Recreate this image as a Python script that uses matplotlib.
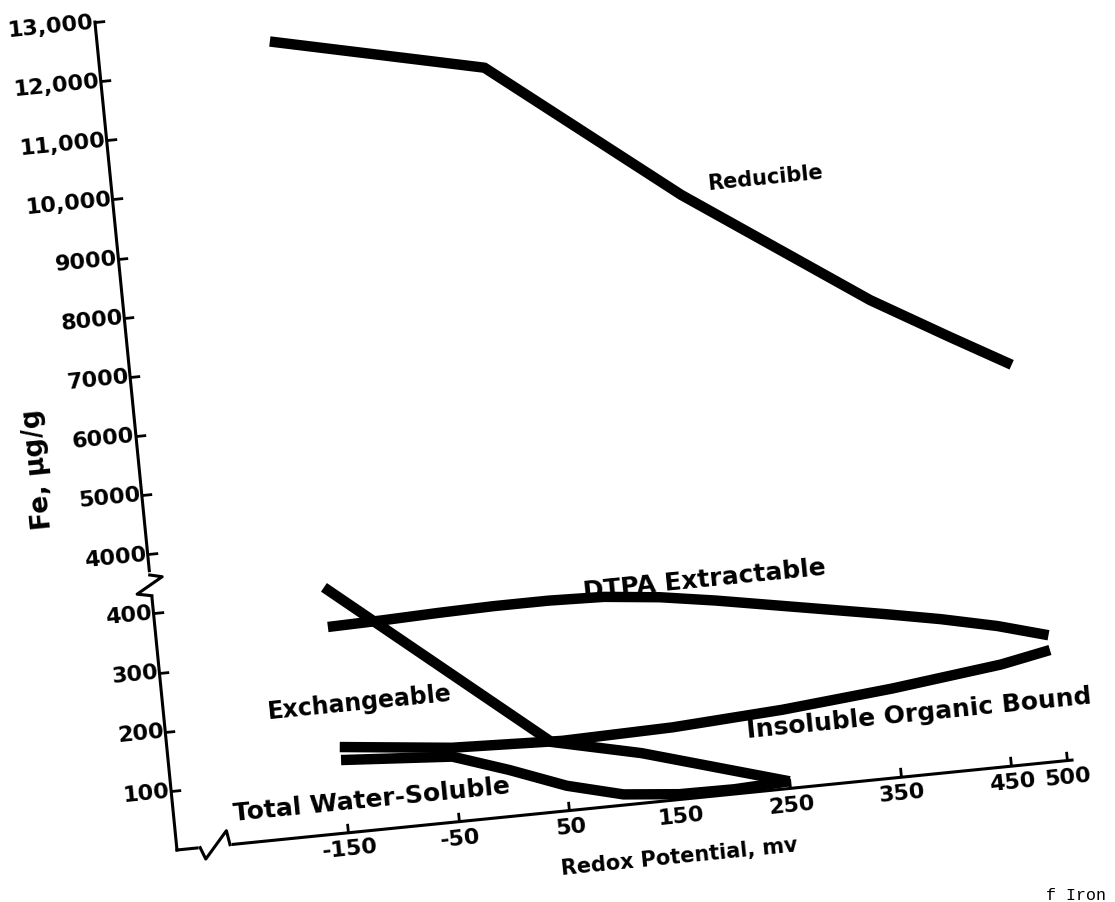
import numpy as np
import matplotlib
matplotlib.use("Agg")
import matplotlib.pyplot as plt
from matplotlib.transforms import Affine2D, IdentityTransform, blended_transform_factory
from matplotlib.scale import FuncTransform
import mpl_toolkits.axisartist.floating_axes as floating_axes
from mpl_toolkits.axisartist.grid_finder import FixedLocator, DictFormatter

# redox potential (mv) and Fe (ug/g)
reducible_mv = [-150, 40, 205, 365, 433, 486]
reducible = [12380, 11580, 9120, 7040, 6290, 5720]

dtpa_mv = [-150, -100, -50, 0, 50, 100, 150, 200, 250, 300, 350, 400, 450, 495]
dtpa = [348, 350, 353, 355, 355, 352, 342, 327, 310, 293, 276, 258, 237, 213]

insoluble_mv = [-150, -50, 50, 150, 250, 350, 450, 495]
insoluble = [145, 125, 118, 122, 133, 150, 172, 188]

exchange_mv = [-150, 40, 120, 250]
exchange = [415, 118, 84, 12]

water_mv = [-150, -50, 0, 50, 100, 150, 200, 250]
water = [123, 110, 78, 42, 18, 9, 8, 12]

x_ticks = [-150, -50, 50, 150, 250, 350, 450, 500]
x_labels = ["-150", "-50", "50", "150", "250", "350", "450", "500"]
y_ticks = [100, 200, 300, 400, 4000, 5000, 6000, 7000, 8000, 9000,
           10000, 11000, 12000, 13000]
y_labels = ["100", "200", "300", "400", "4000", "5000", "6000", "7000",
            "8000", "9000", "10,000", "11,000", "12,000", "13,000"]


# broken y scale: 0-450 linear, squeezed gap, then 4000-13000
def fwd(v):
    v = np.asarray(v, dtype=float)
    return np.where(v <= 450, v / 100,
                    np.where(v < 4000, 4.5 + (v - 450) / 7100, v / 1000 + 1))


def inv(p):
    p = np.asarray(p, dtype=float)
    return np.where(p <= 4.5, p * 100,
                    np.where(p < 5, 450 + (p - 4.5) * 7100, (p - 1) * 1000))


W, H = 1115, 902
TILT = 5.74  # the scanned page is turned a little

# data -> pixel frame (x right, y up), slightly rotated like the scan
skew = Affine2D(np.array([[1.105, -5.86, 514.0],
                          [0.111, 59.14, 85.86],
                          [0.0, 0.0, 1.0]]))
tr = blended_transform_factory(IdentityTransform(), FuncTransform(fwd, inv)) + skew

grid_helper = floating_axes.GridHelperCurveLinear(
    tr, extremes=(-305, 505, 0, 13000),
    grid_locator1=FixedLocator(x_ticks),
    tick_formatter1=DictFormatter(dict(zip(x_ticks, x_labels))),
    grid_locator2=FixedLocator(y_ticks),
    tick_formatter2=DictFormatter(dict(zip(y_ticks, y_labels))))

fig = plt.figure(figsize=(W / 100, H / 100), dpi=100)
ax = fig.add_subplot(axes_class=floating_axes.FloatingAxes, grid_helper=grid_helper)
x0, x1 = ax.get_xlim()
y0, y1 = ax.get_ylim()
ax.set_position([x0 / W, y0 / H, (x1 - x0) / W, (y1 - y0) / H])

ax.axis["top"].set_visible(False)
ax.axis["right"].set_visible(False)
for side in ("left", "bottom"):
    ax.axis[side].line.set_linewidth(2.2)
    ax.axis[side].major_ticks.set_ticksize(7)
    ax.axis[side].major_ticks.set_markeredgewidth(2)
    ax.axis[side].major_ticklabels.set_fontsize(16)
    ax.axis[side].major_ticklabels.set_fontweight("bold")
ax.axis["bottom"].major_ticklabels.set_pad(5)
ax.axis["left"].major_ticklabels.set_pad(1)

aux = ax.get_aux_axes(tr)
line_kw = dict(color="black", lw=7.5, solid_capstyle="butt", solid_joinstyle="round")
aux.plot(reducible_mv, reducible, **line_kw)
aux.plot(dtpa_mv, dtpa, **line_kw)
aux.plot(insoluble_mv, insoluble, **line_kw)
aux.plot(exchange_mv, exchange, **line_kw)
aux.plot(water_mv, water, **line_kw)

# axis breaks
aux.plot([-283, -258], [0, 0], color="white", lw=4, zorder=3, clip_on=False)
aux.plot([-284, -280, -259, -257], [0, -20, 24, 0], color="black", lw=2.2,
         zorder=4, clip_on=False)
aux.plot([-305, -305], [435, 1515], color="white", lw=4, zorder=3, clip_on=False)
aux.plot([-305, -294, -318, -305], [1515, 1160, 435, 430], color="black", lw=2.2,
         zorder=4, clip_on=False)

txt = dict(rotation=TILT, rotation_mode="anchor", ha="center", va="center",
           fontweight="bold")
aux.text(282, 9260, "Reducible", fontsize=15, **txt)
aux.text(192, 363, "DTPA Extractable", fontsize=18, **txt)
aux.text(-128, 215, "Exchangeable", fontsize=17, **txt)
aux.text(372, 104, "Insoluble Organic Bound", fontsize=18, **txt)
aux.text(-126, 51, "Total Water-Soluble", fontsize=18, **txt)
aux.text(145, -96, "Redox Potential, mv", fontsize=15, **txt)
aux.text(-396, 5610, "Fe, µg/g", rotation=90 + TILT, rotation_mode="anchor",
         ha="center", va="center", fontsize=19, fontweight="bold")

fig.text(1046 / W, 14 / H, "f Iron", family="Liberation Mono", fontsize=12,
         va="top", ha="left")

fig.savefig("out.png", dpi=100)
